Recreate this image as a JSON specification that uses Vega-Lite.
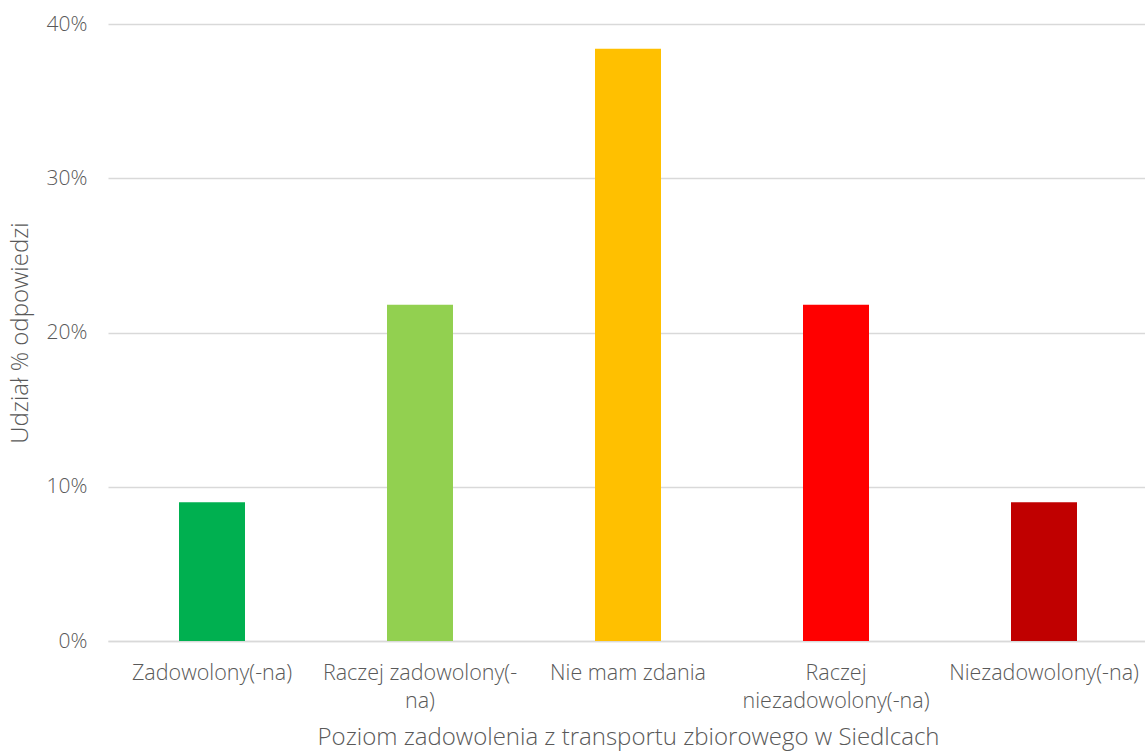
{
  "$schema": "https://vega.github.io/schema/vega-lite/v6.json",
  "width": 1040,
  "height": 617,
  "autosize": "none",
  "padding": {"left": 108, "top": 24, "right": 0, "bottom": 110},
  "background": "white",
  "config": {
    "view": {"stroke": null},
    "font": "Open Sans"
  },
  "data": {
    "values": [
      {"poziom": "Zadowolony(-na)", "udzial": 0.090, "kolor": "#00B050"},
      {"poziom": "Raczej zadowolony(-na)", "udzial": 0.218, "kolor": "#92D050"},
      {"poziom": "Nie mam zdania", "udzial": 0.384, "kolor": "#FFC000"},
      {"poziom": "Raczej niezadowolony(-na)", "udzial": 0.218, "kolor": "#FF0000"},
      {"poziom": "Niezadowolony(-na)", "udzial": 0.090, "kolor": "#C00000"}
    ]
  },
  "mark": {"type": "bar", "width": 66},
  "encoding": {
    "x": {
      "field": "poziom",
      "type": "nominal",
      "sort": null,
      "scale": {"paddingInner": 0, "paddingOuter": 0},
      "axis": {
        "title": "Poziom zadowolenia z transportu zbiorowego w Siedlcach",
        "titleFont": "Open Sans",
        "titleFontWeight": 300,
        "titleFontSize": 24,
        "titleColor": "#595959",
        "titlePadding": 14,
        "labelAngle": 0,
        "labelFont": "Open Sans",
        "labelFontWeight": 300,
        "labelFontSize": 21.5,
        "labelColor": "#595959",
        "labelPadding": 21,
        "labelLineHeight": 28,
        "labelLimit": 300,
        "labelExpr": "datum.value == 'Raczej zadowolony(-na)' ? ['Raczej zadowolony(-', 'na)'] : datum.value == 'Raczej niezadowolony(-na)' ? ['Raczej', 'niezadowolony(-na)'] : datum.value",
        "ticks": false,
        "domain": true,
        "domainColor": "#D9D9D9",
        "domainWidth": 1.5,
        "grid": false
      }
    },
    "y": {
      "field": "udzial",
      "type": "quantitative",
      "scale": {"domain": [0, 0.4]},
      "axis": {
        "title": "Udział % odpowiedzi",
        "titleFont": "Open Sans",
        "titleFontWeight": 300,
        "titleFontSize": 24,
        "titleColor": "#595959",
        "titlePadding": 14,
        "format": ".0%",
        "values": [0, 0.1, 0.2, 0.3, 0.4],
        "labelFont": "Open Sans",
        "labelFontWeight": 300,
        "labelFontSize": 21,
        "labelColor": "#595959",
        "labelPadding": 21,
        "ticks": false,
        "domain": false,
        "grid": true,
        "gridColor": "#D9D9D9",
        "gridWidth": 1.5
      }
    },
    "color": {"field": "kolor", "type": "nominal", "scale": null, "legend": null}
  }
}
